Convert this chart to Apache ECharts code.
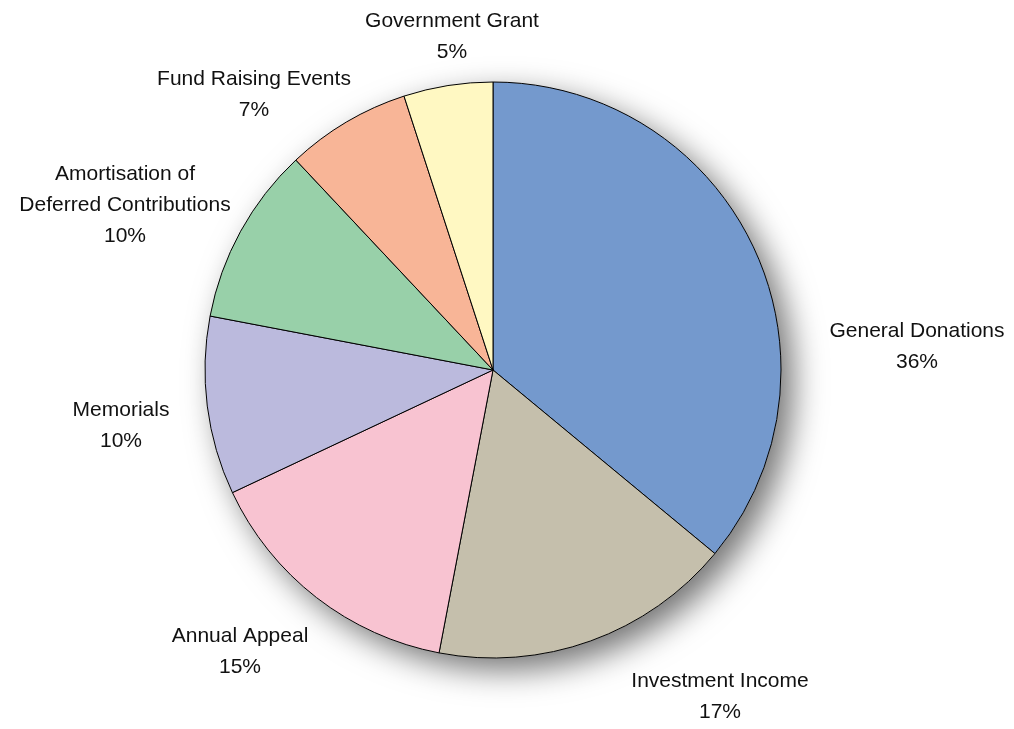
<!DOCTYPE html>
<html>
<head>
<meta charset="utf-8">
<script src="https://cdn.jsdelivr.net/npm/echarts@6/dist/echarts.min.js"></script>
<style>
  html, body { margin: 0; padding: 0; background: #ffffff; }
  #fontes-receita { width: 1014px; height: 729px; }
</style>
</head>
<body>
<div id="fontes-receita"></div>
<script>
// dados do gráfico
var categorias = ['General Donations', 'Investment Income', 'Annual Appeal', 'Memorials',
  'Amortisation of\nDeferred Contributions', 'Fund Raising Events', 'Government Grant'];
var valores = [36, 17, 15, 10, 10, 7, 5];
var cores = ['#7499cd', '#c5bfac', '#f8c3d1', '#bbbadd', '#98d0a9', '#f8b597', '#fff8c2'];

// centro de cada rótulo (px)
var posRotulos = [[917, 347], [720, 697], [240, 652], [121, 426], [125, 205], [254, 95], [452, 37]];

var grafico = echarts.init(document.getElementById('fontes-receita'));

var option = {
  animation: false,
  series: [
    {
      // sombra atrás da pizza
      type: 'pie',
      center: [493, 370],
      radius: 288,
      silent: true,
      z: 1,
      label: { show: false },
      labelLine: { show: false },
      itemStyle: {
        color: '#ffffff',
        shadowBlur: 32,
        shadowOffsetX: 12,
        shadowOffsetY: 12,
        shadowColor: 'rgba(0, 0, 0, 0.55)'
      },
      data: [{ value: 1, name: 'sombra' }]
    },
    {
      name: 'Receitas',
      type: 'pie',
      center: [493, 370],
      radius: 288,
      startAngle: 90,
      clockwise: true,
      z: 2,
      itemStyle: { borderColor: '#000000', borderWidth: 1 },
      label: {
        show: true,
        position: 'outside',
        formatter: '{b}\n{c}%',
        fontFamily: 'Liberation Sans, Arial, sans-serif',
        fontSize: 21,
        lineHeight: 31,
        color: '#111111',
        align: 'center',
        overflow: 'none'
      },
      labelLine: { show: false },
      labelLayout: function (params) {
        var p = posRotulos[params.dataIndex];
        return { x: p[0], y: p[1], align: 'center', verticalAlign: 'middle' };
      },
      emphasis: { disabled: true },
      data: categorias.map(function (nome, i) {
        return { name: nome, value: valores[i], itemStyle: { color: cores[i] } };
      })
    }
  ]
};

grafico.setOption(option);
window.addEventListener('resize', function () { grafico.resize(); });
</script>
</body>
</html>
